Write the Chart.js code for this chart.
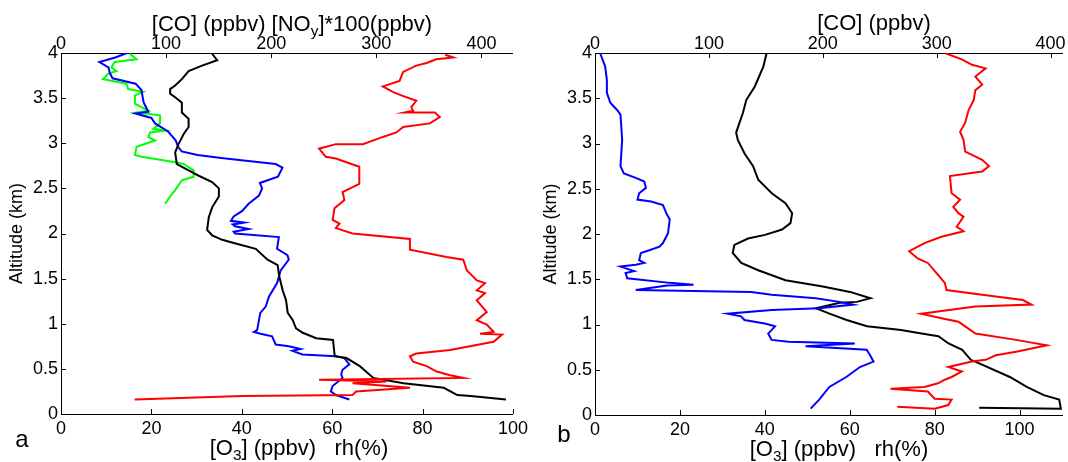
<!DOCTYPE html>
<html>
<head>
<meta charset="utf-8">
<script src="https://cdn.jsdelivr.net/npm/chart.js@4"></script>
<style>
body { margin: 0; background: #fff; }
#wrap { position: relative; width: 1068px; height: 462px; overflow: hidden; font-family: "Liberation Sans", Arial, sans-serif; color: #000; }
canvas { position: absolute; top: 0; }
.lbl { position: absolute; white-space: nowrap; transform: translate(-50%, -50%); font-size: 22px; line-height: 1; }
.lbl sub { font-size: 70%; vertical-align: -0.3em; line-height: 0; }
.tag { font-size: 24px; }
</style>
</head>
<body>
<div id="wrap">
  <canvas id="panelA" width="534" height="462" style="left:0"></canvas>
  <canvas id="panelB" width="534" height="462" style="left:534px"></canvas>
  <div class="lbl" style="left:292px; top:24px">[CO] (ppbv) [NO<sub>y</sub>]*100(ppbv)</div>
  <div class="lbl" style="left:299px; top:448px">[O<sub>3</sub>] (ppbv) &nbsp; rh(%)</div>
  <div class="lbl" style="left:874px; top:23px">[CO] (ppbv)</div>
  <div class="lbl" style="left:839px; top:449px">[O<sub>3</sub>] (ppbv) &nbsp; rh(%)</div>
  <div class="lbl tag" style="left:22px; top:439px">a</div>
  <div class="lbl tag" style="left:564px; top:434px">b</div>
</div>
<script>
// tick labels
const altTicks = [0, 0.5, 1, 1.5, 2, 2.5, 3, 3.5, 4];
const bottomTicks = [0, 20, 40, 60, 80, 100];
const topTicks = [0, 100, 200, 300, 400];

// ---- panel a : altitude (km) against value ----
const altA_o3 = [4.00, 3.95, 3.90, 3.84, 3.78, 3.72, 3.66, 3.59, 3.53, 3.45, 3.39, 3.35, 3.33, 3.28, 3.22, 3.13, 3.03, 2.96, 2.91, 2.87, 2.84, 2.81, 2.77, 2.73, 2.63, 2.56, 2.50, 2.42, 2.33, 2.25, 2.19, 2.14, 2.12, 2.10, 2.08, 2.05, 2.02, 2.00, 1.96, 1.83, 1.76, 1.71, 1.59, 1.45, 1.30, 1.19, 1.12, 1.04, 0.93, 0.91, 0.89, 0.86, 0.77, 0.75, 0.72, 0.70, 0.66, 0.64, 0.62, 0.55, 0.49, 0.44, 0.40, 0.31, 0.25, 0.21, 0.16];
const o3A = [14.6, 12.0, 8.5, 10.5, 10.8, 11.4, 16.5, 17.8, 18.0, 18.3, 18.9, 19.3, 16.5, 20.0, 20.8, 23.7, 25.4, 25.9, 26.7, 30.2, 35.0, 40.4, 47.5, 49.0, 48.0, 44.0, 44.5, 43.8, 41.5, 40.1, 38.2, 37.6, 40.5, 38.0, 38.5, 41.5, 38.2, 38.5, 48.2, 47.8, 50.1, 50.4, 48.6, 47.8, 46.0, 45.3, 44.1, 43.8, 43.4, 42.7, 44.1, 46.7, 47.5, 50.4, 53.0, 51.2, 53.4, 60.8, 62.7, 63.8, 62.3, 62.0, 62.3, 60.1, 59.7, 60.8, 63.8];

const altA_noy = [3.99, 3.93, 3.90, 3.84, 3.80, 3.77, 3.71, 3.66, 3.60, 3.57, 3.53, 3.44, 3.36, 3.34, 3.31, 3.22, 3.16, 3.14, 3.12, 3.07, 3.03, 2.96, 2.87, 2.85, 2.79, 2.77, 2.70, 2.63, 2.59, 2.48, 2.41, 2.33];
const noyA = [65.5, 71.9, 51.1, 47.9, 52.7, 44.7, 39.9, 62.3, 63.9, 78.3, 70.3, 70.3, 83.1, 71.9, 94.2, 94.2, 87.9, 99.0, 84.7, 83.1, 89.5, 71.9, 70.3, 76.7, 108.6, 116.6, 126.2, 126.2, 115.0, 108.6, 103.8, 99.0];

const altA_co = [3.99, 3.92, 3.86, 3.80, 3.71, 3.64, 3.60, 3.55, 3.51, 3.45, 3.34, 3.27, 3.18, 3.10, 2.99, 2.90, 2.77, 2.70, 2.64, 2.57, 2.50, 2.41, 2.29, 2.18, 2.04, 1.98, 1.93, 1.89, 1.83, 1.71, 1.65, 1.52, 1.37, 1.26, 1.12, 1.04, 0.95, 0.90, 0.84, 0.82, 0.64, 0.62, 0.53, 0.40, 0.34, 0.29, 0.21, 0.20, 0.16];
const coA = [143.8, 148.6, 134.2, 121.4, 115.0, 108.6, 103.8, 103.8, 108.6, 115.0, 115.0, 121.4, 121.4, 116.6, 111.8, 108.6, 110.2, 121.4, 131.0, 143.8, 150.2, 150.2, 143.8, 140.6, 139.0, 143.8, 153.4, 166.1, 185.3, 196.5, 206.1, 207.7, 210.9, 214.1, 215.7, 220.5, 223.6, 230.0, 242.8, 258.8, 260.4, 271.6, 284.3, 297.1, 325.9, 364.2, 377.0, 389.8, 423.3];

const altA_rh = [3.98, 3.95, 3.93, 3.89, 3.86, 3.79, 3.69, 3.63, 3.57, 3.53, 3.47, 3.40, 3.36, 3.34, 3.34, 3.29, 3.22, 3.18, 3.12, 3.07, 2.99, 2.99, 2.94, 2.85, 2.83, 2.74, 2.55, 2.46, 2.37, 2.28, 2.15, 2.11, 2.06, 2.00, 1.94, 1.82, 1.74, 1.71, 1.59, 1.48, 1.45, 1.37, 1.34, 1.26, 1.13, 1.04, 0.99, 0.91, 0.89, 0.88, 0.80, 0.71, 0.67, 0.64, 0.58, 0.53, 0.47, 0.43, 0.40, 0.38, 0.36, 0.34, 0.29, 0.25, 0.21, 0.20, 0.16];
const rhA = [85.0, 86.8, 83.0, 80.9, 78.6, 75.7, 74.9, 71.2, 73.4, 75.3, 78.6, 77.5, 77.9, 76.0, 82.7, 83.8, 81.6, 75.7, 74.2, 71.2, 66.8, 60.8, 57.1, 58.6, 60.8, 66.0, 66.0, 62.3, 62.7, 60.5, 60.1, 61.6, 60.8, 64.5, 77.2, 77.2, 85.3, 89.0, 89.8, 92.0, 93.8, 92.0, 93.8, 92.0, 94.2, 92.0, 94.2, 95.7, 92.7, 97.6, 95.7, 86.1, 78.6, 77.2, 77.9, 80.9, 83.1, 86.1, 89.0, 57.1, 72.0, 64.5, 77.2, 65.3, 64.5, 40.1, 16.3];

// ---- panel b ----
const altB_o3 = [4.00, 3.85, 3.70, 3.56, 3.45, 3.37, 3.32, 3.04, 2.75, 2.67, 2.62, 2.58, 2.51, 2.45, 2.38, 2.36, 2.32, 2.23, 2.16, 2.01, 1.90, 1.86, 1.82, 1.79, 1.71, 1.68, 1.66, 1.64, 1.59, 1.57, 1.51, 1.46, 1.44, 1.43, 1.38, 1.36, 1.33, 1.29, 1.25, 1.22, 1.18, 1.16, 1.12, 1.09, 1.05, 1.01, 0.98, 0.90, 0.83, 0.81, 0.79, 0.76, 0.72, 0.66, 0.59, 0.53, 0.42, 0.31, 0.17, 0.07];
const o3B = [1.2, 2.4, 2.8, 2.8, 3.6, 5.2, 6.0, 6.4, 6.0, 6.8, 9.6, 11.6, 12.0, 10.4, 10.0, 13.2, 16.0, 16.8, 17.6, 17.2, 16.0, 15.2, 12.8, 10.8, 10.4, 11.6, 9.6, 6.0, 9.2, 7.2, 7.6, 17.6, 23.2, 17.0, 9.6, 36.8, 41.6, 52.0, 57.6, 60.8, 52.8, 41.6, 31.2, 34.4, 35.2, 40.0, 42.4, 40.8, 41.6, 45.6, 61.2, 49.6, 64.0, 64.8, 65.6, 62.4, 59.2, 55.2, 52.8, 50.8];

const altB_co = [4.00, 3.85, 3.63, 3.48, 3.34, 3.23, 3.12, 3.04, 2.89, 2.75, 2.60, 2.45, 2.34, 2.23, 2.12, 2.05, 1.99, 1.95, 1.88, 1.79, 1.68, 1.60, 1.49, 1.42, 1.36, 1.29, 1.25, 1.24, 1.18, 1.12, 1.05, 0.98, 0.94, 0.90, 0.87, 0.79, 0.72, 0.61, 0.57, 0.42, 0.31, 0.22, 0.17, 0.07, 0.08];
const coB = [150.7, 147.8, 140.3, 132.8, 129.9, 126.9, 123.9, 125.4, 131.3, 138.8, 143.3, 155.2, 167.2, 173.1, 171.6, 164.2, 149.3, 134.3, 122.4, 120.9, 128.4, 143.3, 167.2, 200.0, 223.9, 241.8, 229.9, 214.9, 194.0, 205.9, 220.9, 238.8, 268.7, 286.6, 301.5, 310.4, 322.4, 329.9, 337.3, 364.2, 379.1, 394.0, 407.5, 409.0, 337.3];

const altB_rh = [4.00, 3.93, 3.87, 3.83, 3.74, 3.65, 3.59, 3.48, 3.37, 3.23, 3.13, 3.04, 2.91, 2.82, 2.75, 2.69, 2.64, 2.45, 2.38, 2.30, 2.23, 2.19, 2.08, 2.03, 1.97, 1.90, 1.81, 1.73, 1.68, 1.57, 1.46, 1.38, 1.33, 1.27, 1.22, 1.20, 1.12, 1.07, 1.03, 0.98, 0.90, 0.83, 0.77, 0.70, 0.66, 0.61, 0.59, 0.53, 0.48, 0.42, 0.39, 0.35, 0.31, 0.29, 0.26, 0.18, 0.17, 0.11, 0.07, 0.09];
const rhB = [82.4, 86.4, 88.8, 92.0, 89.6, 91.2, 89.6, 89.2, 88.0, 87.2, 86.0, 86.8, 87.2, 91.2, 92.8, 91.2, 83.6, 84.0, 86.0, 84.4, 85.6, 86.8, 85.2, 86.8, 81.6, 77.6, 74.0, 76.0, 78.4, 80.4, 82.4, 82.8, 91.2, 100.8, 102.8, 89.6, 76.8, 81.6, 85.6, 87.2, 89.6, 99.2, 106.4, 99.2, 94.4, 92.0, 88.8, 83.2, 86.4, 84.0, 82.4, 80.8, 77.6, 69.6, 78.4, 80.0, 84.0, 83.2, 80.0, 71.2];

function pts(alts, vals) {
    return vals.map((v, i) => ({ x: v, y: alts[i] }));
}

function line(alts, vals, color, axis) {
    return {
        data: pts(alts, vals),
        xAxisID: axis,
        borderColor: color,
        borderWidth: 2,
        pointRadius: 0,
        showLine: true,
        fill: false,
        tension: 0
    };
}

// MATLAB style ticks pointing into the plot
const inwardTicks = {
    id: 'inwardTicks',
    afterDraw(chart) {
        const ctx = chart.ctx;
        const a = chart.chartArea;
        ctx.save();
        ctx.strokeStyle = '#000';
        ctx.lineWidth = 1;
        ctx.beginPath();
        ['x', 'x2', 'y'].forEach(id => {
            const s = chart.scales[id];
            s.ticks.forEach(t => {
                const p = Math.round(s.getPixelForValue(t.value)) + 0.5;
                if (id === 'x') { ctx.moveTo(p, a.bottom); ctx.lineTo(p, a.bottom - 5); }
                if (id === 'x2') { ctx.moveTo(p, a.top); ctx.lineTo(p, a.top + 5); }
                if (id === 'y') { ctx.moveTo(a.left, p); ctx.lineTo(a.left + 5, p); }
            });
        });
        ctx.stroke();
        ctx.restore();
    }
};

const tickFont = { family: '"Liberation Sans", Arial, sans-serif', size: 18, lineHeight: 1 };

function fixedTicks(list) {
    return s => { s.ticks = list.map(v => ({ value: v })); };
}

function makePanel(id, datasets, bottomMax, topMax, padRight, bottomH) {
    const axisBase = {
        type: 'linear',
        grid: { display: true, drawOnChartArea: false, drawTicks: false },
        border: { display: true, color: '#000', width: 1 }
    };
    return new Chart(document.getElementById(id), {
        type: 'scatter',
        data: { datasets: datasets },
        options: {
            responsive: false,
            animation: false,
            layout: { padding: { left: 0, right: padRight, top: 0, bottom: 0 } },
            plugins: { legend: { display: false }, tooltip: { enabled: false } },
            scales: {
                x: Object.assign({}, axisBase, {
                    position: 'bottom', min: 0, max: bottomMax,
                    ticks: { autoSkip: false, maxRotation: 0, color: '#000', font: tickFont, padding: 6, callback: v => String(v) },
                    afterBuildTicks: fixedTicks(bottomTicks),
                    afterFit: s => { s.height = bottomH; }
                }),
                x2: Object.assign({}, axisBase, {
                    position: 'top', min: 0, max: topMax,
                    ticks: { autoSkip: false, maxRotation: 0, color: '#000', font: tickFont, padding: 0, callback: v => String(v) },
                    afterBuildTicks: fixedTicks(topTicks),
                    afterFit: s => { s.height = 53; }
                }),
                y: Object.assign({}, axisBase, {
                    position: 'left', min: 0, max: 4,
                    ticks: { autoSkip: false, color: '#000', font: tickFont, padding: 3, callback: v => String(v) },
                    afterBuildTicks: fixedTicks(altTicks),
                    title: { display: true, text: 'Altitude (km)', color: '#000', font: { family: '"Liberation Sans", Arial, sans-serif', size: 18 }, padding: { top: 6, bottom: 0 } },
                    afterFit: s => { s.width = 61; }
                })
            }
        },
        plugins: [inwardTicks]
    });
}

makePanel('panelA', [
    line(altA_rh, rhA, '#ff0000', 'x'),
    line(altA_co, coA, '#000000', 'x2'),
    line(altA_o3, o3A, '#0000ff', 'x'),
    line(altA_noy, noyA, '#00ff00', 'x2')
], 100, 430, 13, 48);

makePanel('panelB', [
    line(altB_rh, rhB, '#ff0000', 'x'),
    line(altB_o3, o3B, '#0000ff', 'x'),
    line(altB_co, coB, '#000000', 'x2')
], 110, 410, 6, 47);
</script>
</body>
</html>
